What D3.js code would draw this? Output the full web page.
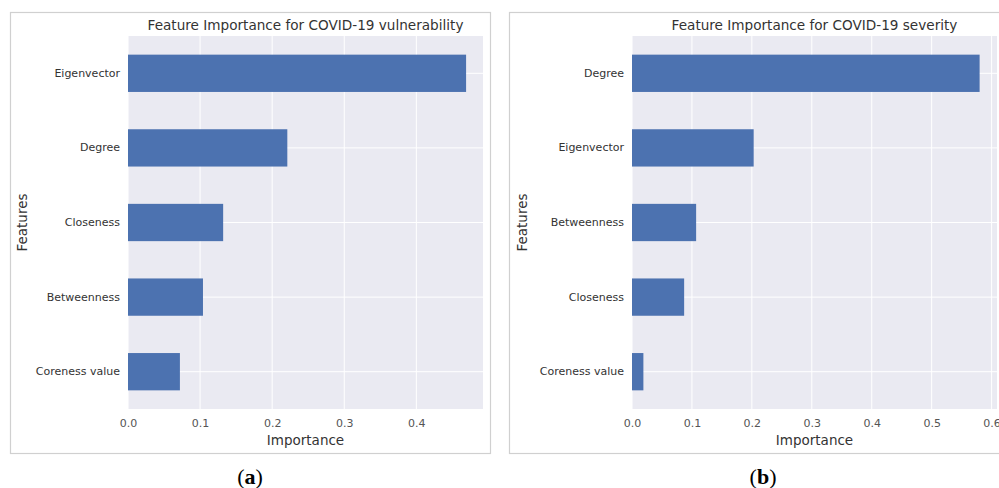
<!DOCTYPE html>
<html>
<head>
<meta charset="utf-8">
<script src="https://cdn.jsdelivr.net/npm/d3@7"></script>
<style>
body { margin: 0; background: #fff; }
svg text { font-family: "DejaVu Sans", sans-serif; }
</style>
</head>
<body>
<div id="chart"></div>
<script>
// panel (a) - vulnerability
var vulnFeatures = ["Eigenvector", "Degree", "Closeness", "Betweenness", "Coreness value"];
var vulnValues = [0.469, 0.221, 0.132, 0.104, 0.072];
var vulnTicks = [0.0, 0.1, 0.2, 0.3, 0.4];

// panel (b) - severity
var sevFeatures = ["Degree", "Eigenvector", "Betweenness", "Closeness", "Coreness value"];
var sevValues = [0.580, 0.203, 0.107, 0.087, 0.019];
var sevTicks = [0.0, 0.1, 0.2, 0.3, 0.4, 0.5, 0.6];

var W = 999, H = 488;
var svg = d3.select("#chart").append("svg")
	.attr("width", W)
	.attr("height", H);

function drawPanel(p) {
	var g = svg.append("g").attr("transform", "translate(" + p.left + ",0)");

	// outer frame
	g.append("rect")
		.attr("x", p.frame[0] + 0.5)
		.attr("y", 12.5)
		.attr("width", p.frame[1] - p.frame[0])
		.attr("height", 441)
		.attr("fill", "none")
		.attr("stroke", "#d0d0d0")
		.attr("stroke-width", 1.2);

	var top = 36, bottom = 409;
	var x = d3.scaleLinear()
		.domain([0, d3.max(p.values) * 1.05])
		.range([p.plot[0], p.plot[1]]);
	var y = d3.scaleBand()
		.domain(p.features)
		.range([top, bottom])
		.paddingInner(0.5)
		.paddingOuter(0.25);

	g.append("rect")
		.attr("x", p.plot[0])
		.attr("y", top)
		.attr("width", p.plot[1] - p.plot[0])
		.attr("height", bottom - top)
		.attr("fill", "#eaeaf2");

	// grid lines
	g.selectAll("line.vgrid")
		.data(p.ticks.filter(function(t) { return x(t) <= p.plot[1]; }))
		.enter()
		.append("line")
		.attr("class", "vgrid")
		.attr("x1", function(d) { return x(d); })
		.attr("x2", function(d) { return x(d); })
		.attr("y1", top)
		.attr("y2", bottom)
		.attr("stroke", "#fff")
		.attr("stroke-width", 1);
	g.selectAll("line.hgrid")
		.data(p.features)
		.enter()
		.append("line")
		.attr("class", "hgrid")
		.attr("x1", p.plot[0])
		.attr("x2", p.plot[1])
		.attr("y1", function(d) { return y(d) + y.bandwidth() / 2; })
		.attr("y2", function(d) { return y(d) + y.bandwidth() / 2; })
		.attr("stroke", "#fff")
		.attr("stroke-width", 1);

	g.selectAll("rect.bar")
		.data(p.values)
		.enter()
		.append("rect")
		.attr("class", "bar")
		.attr("x", x(0))
		.attr("y", function(d, i) { return y(p.features[i]); })
		.attr("width", function(d) { return x(d) - x(0); })
		.attr("height", y.bandwidth())
		.attr("fill", "#4c72b0");

	var xAxis = d3.axisBottom(x)
		.tickValues(p.ticks)
		.tickFormat(d3.format(".1f"))
		.tickSize(0)
		.tickPadding(10);
	var ax = g.append("g")
		.attr("transform", "translate(0," + bottom + ")")
		.call(xAxis);
	ax.select(".domain").remove();
	ax.selectAll("text")
		.attr("font-size", 11)
		.attr("fill", "#555")
		.style("font-family", "DejaVu Sans");

	var yAxis = d3.axisLeft(y).tickSize(0).tickPadding(8);
	var ay = g.append("g")
		.attr("transform", "translate(" + p.plot[0] + ",0)")
		.call(yAxis);
	ay.select(".domain").remove();
	ay.selectAll("text")
		.attr("font-size", 11)
		.attr("fill", "#333")
		.style("font-family", "DejaVu Sans");

	var cx = (p.plot[0] + p.plot[1]) / 2;
	g.append("text")
		.attr("x", cx)
		.attr("y", 30)
		.attr("text-anchor", "middle")
		.attr("font-size", 13.6)
		.attr("fill", "#333")
		.text(p.title);
	g.append("text")
		.attr("x", cx)
		.attr("y", 445)
		.attr("text-anchor", "middle")
		.attr("font-size", 13.5)
		.attr("fill", "#333")
		.text("Importance");
	g.append("text")
		.attr("transform", "translate(27," + ((top + bottom) / 2) + ") rotate(-90)")
		.attr("text-anchor", "middle")
		.attr("font-size", 13.5)
		.attr("fill", "#333")
		.text("Features");

	var cap = g.append("text")
		.attr("x", p.caption)
		.attr("y", 484)
		.attr("text-anchor", "middle")
		.attr("font-size", 22)
		.attr("fill", "#000")
		.style("font-family", "Liberation Serif, serif");
	cap.append("tspan").text("(");
	cap.append("tspan").attr("font-weight", "bold").text(p.letter);
	cap.append("tspan").text(")");
}

drawPanel({
	left: 0, frame: [10, 490], plot: [128, 483],
	features: vulnFeatures, values: vulnValues, ticks: vulnTicks,
	title: "Feature Importance for COVID-19 vulnerability",
	caption: 250, letter: "a"
});
drawPanel({
	left: 500, frame: [9, 520], plot: [132, 497],
	features: sevFeatures, values: sevValues, ticks: sevTicks,
	title: "Feature Importance for COVID-19 severity",
	caption: 263, letter: "b"
});
</script>
</body>
</html>
